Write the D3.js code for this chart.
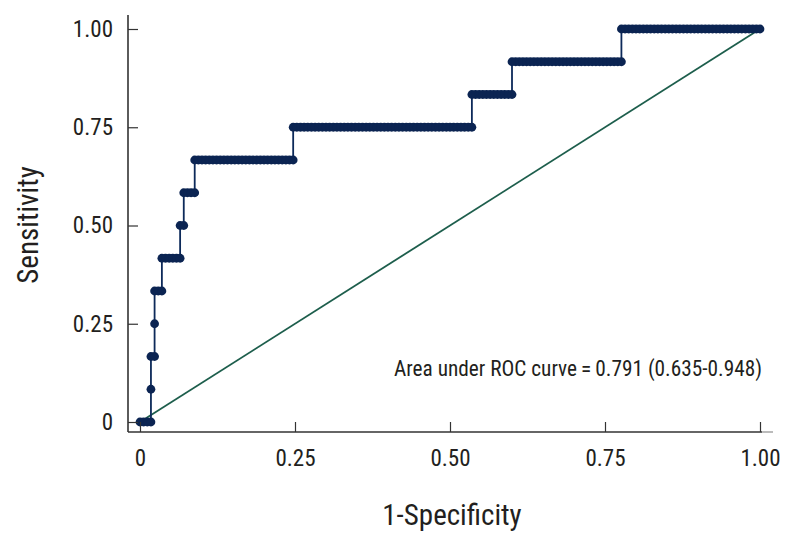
<!DOCTYPE html>
<html>
<head>
<meta charset="utf-8">
<script src="https://cdn.jsdelivr.net/npm/d3@7"></script>
<style>
  html, body { margin: 0; padding: 0; background: #fff; }
  svg text { font-family: "Liberation Sans Narrow", "Roboto Condensed", "Arial Narrow", sans-serif; fill: #231f20; }
</style>
</head>
<body>
<svg id="chart" width="792" height="545"></svg>
<script>
// ROC points: false-positive counts (of 170 negatives) and true-positive counts (of 12 positives)
const negatives = 170;
const positives = 12;
const fpCounts = [
  0,1,2,3, 3, 3,4, 4, 4,5,6,
  6,7,8,9,10,11, 11,12, 12,13,14,15,
  15,16,17,18,19,20,21,22,23,24,25,26,27,28,29,30,31,32,33,34,35,36,37,38,39,40,41,42,
  42,43,44,45,46,47,48,49,50,51,52,53,54,55,56,57,58,59,60,61,62,63,64,65,66,67,68,69,70,71,72,73,74,75,76,77,78,79,80,81,82,83,84,85,86,87,88,89,90,91,
  91,92,93,94,95,96,97,98,99,100,101,102,
  102,103,104,105,106,107,108,109,110,111,112,113,114,115,116,117,118,119,120,121,122,123,124,125,126,127,128,129,130,131,132,
  132,133,134,135,136,137,138,139,140,141,142,143,144,145,146,147,148,149,150,151,152,153,154,155,156,157,158,159,160,161,162,163,164,165,166,167,168,169,170
];
const tpCounts = [
  0,0,0,0, 1, 2,2, 3, 4,4,4,
  5,5,5,5,5,5, 6,6, 7,7,7,7,
  8,8,8,8,8,8,8,8,8,8,8,8,8,8,8,8,8,8,8,8,8,8,8,8,8,8,8,8,
  9,9,9,9,9,9,9,9,9,9,9,9,9,9,9,9,9,9,9,9,9,9,9,9,9,9,9,9,9,9,9,9,9,9,9,9,9,9,9,9,9,9,9,9,9,9,9,9,9,9,
  10,10,10,10,10,10,10,10,10,10,10,10,
  11,11,11,11,11,11,11,11,11,11,11,11,11,11,11,11,11,11,11,11,11,11,11,11,11,11,11,11,11,11,11,
  12,12,12,12,12,12,12,12,12,12,12,12,12,12,12,12,12,12,12,12,12,12,12,12,12,12,12,12,12,12,12,12,12,12,12,12,12,12,12
];
const tickValues = [0, 0.25, 0.5, 0.75, 1];
const tickLabels = ["0", "0.25", "0.50", "0.75", "1.00"];
const xTitle = "1-Specificity";
const yTitle = "Sensitivity";
const aucText = "Area under ROC curve\u2009=\u20090.791 (0.635-0.948)";

const points = fpCounts.map((fp, i) => ({ x: fp / negatives, y: tpCounts[i] / positives }));

const svg = d3.select("#chart");
const x = d3.scaleLinear().domain([0, 1]).range([140, 760]);
const y = d3.scaleLinear().domain([0, 1]).range([422, 29]);
const axisX = 128, axisY = 432;
const axisColor = "#333";
const fontStack = '"Liberation Sans Narrow", "Roboto Condensed", sans-serif';

// diagonal reference line
svg.append("line")
  .attr("x1", x(0)).attr("y1", y(0)).attr("x2", x(1)).attr("y2", y(1))
  .attr("stroke", "#1d5e4c").attr("stroke-width", 1.8);

// ROC line
svg.append("path")
  .datum(points)
  .attr("d", d3.line().x(d => x(d.x)).y(d => y(d.y)))
  .attr("fill", "none").attr("stroke", "#0d2a5a").attr("stroke-width", 1.8);

// ROC dots
svg.append("g").selectAll("circle").data(points).join("circle")
  .attr("cx", d => x(d.x)).attr("cy", d => y(d.y)).attr("r", 4.4)
  .attr("fill", "#0b2452");

// axes
const gx = svg.append("g").attr("transform", `translate(0,${axisY})`)
  .call(d3.axisBottom(x).tickValues(tickValues).tickFormat((d, i) => tickLabels[i]).tickSize(-10).tickSizeOuter(0).tickPadding(18));
gx.select(".domain").remove();
gx.selectAll(".tick line").attr("stroke", axisColor).attr("stroke-width", 1.2);
gx.selectAll(".tick text").attr("font-size", 23).attr("fill", "#231f20").style("font-family", fontStack);

const gy = svg.append("g").attr("transform", `translate(${axisX},0)`)
  .call(d3.axisLeft(y).tickValues(tickValues).tickFormat((d, i) => tickLabels[i]).tickSize(-10).tickSizeOuter(0).tickPadding(15));
gy.select(".domain").remove();
gy.selectAll(".tick line").attr("stroke", axisColor).attr("stroke-width", 1.2);
gy.selectAll(".tick text").attr("font-size", 23).attr("fill", "#231f20").style("font-family", fontStack);

// axis lines
svg.append("line").attr("x1", axisX).attr("x2", axisX).attr("y1", 15).attr("y2", axisY)
  .attr("stroke", axisColor).attr("stroke-width", 1.6);
svg.append("line").attr("x1", axisX).attr("x2", 762).attr("y1", axisY).attr("y2", axisY)
  .attr("stroke", axisColor).attr("stroke-width", 1.6);
svg.append("line").attr("x1", 762).attr("x2", 773).attr("y1", axisY).attr("y2", axisY)
  .attr("stroke", "#aaa").attr("stroke-width", 1.6);

// titles
svg.append("text").attr("x", 452).attr("y", 525).attr("text-anchor", "middle")
  .attr("font-size", 29).text(xTitle);
svg.append("text").attr("transform", "translate(38,225) rotate(-90)").attr("text-anchor", "middle")
  .attr("font-size", 29).text(yTitle);

// AUC annotation
svg.append("text").attr("x", 762).attr("y", 376).attr("text-anchor", "end")
  .attr("font-size", 21.3).text(aucText);
</script>
</body>
</html>
